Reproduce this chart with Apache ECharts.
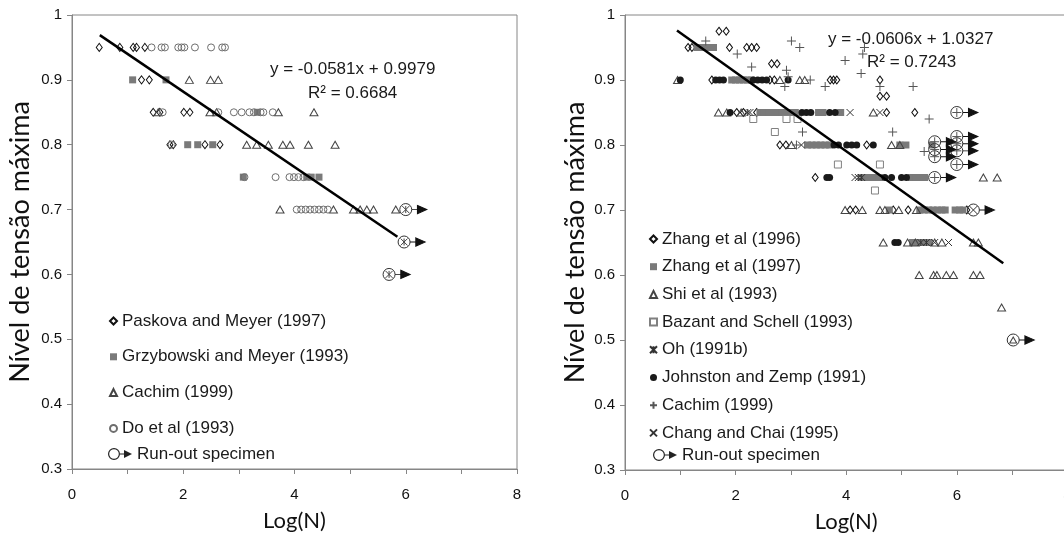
<!DOCTYPE html>
<html>
<head>
<meta charset="utf-8">
<script src="https://cdn.jsdelivr.net/npm/echarts@6/dist/echarts.min.js"></script>
<style>html,body{margin:0;padding:0;background:#fff;}#c{width:1064px;height:535px;}</style>
</head>
<body>
<div id="c"></div>
<script>
// ---------- tick labels ----------
const xTickLabels = ['0', '', '2', '', '4', '', '6', '', '8'];
const yTickLabels = ['0.3', '0.4', '0.5', '0.6', '0.7', '0.8', '0.9', '1'];

// ---------- left panel data ----------
const paskova = [[0.49,0.95],[0.86,0.95],[1.10,0.95],[1.16,0.95],[1.31,0.95],
  [1.25,0.90],[1.39,0.90],
  [1.46,0.85],[1.58,0.85],[2.01,0.85],[2.12,0.85],
  [1.76,0.80],[1.82,0.80],[2.39,0.80],[2.66,0.80]];
const grzybowski = [[1.09,0.90],[1.69,0.90],[2.08,0.80],[2.26,0.80],[2.53,0.80],
  [3.33,0.85],[3.08,0.75],[4.22,0.75],[4.30,0.75],[4.44,0.75]];
const cachimLeft = [[2.11,0.90],[2.49,0.90],[2.63,0.90],
  [1.55,0.85],[2.48,0.85],[2.60,0.85],[3.71,0.85],[4.35,0.85],
  [3.14,0.80],[3.32,0.80],[3.53,0.80],[3.79,0.80],[3.92,0.80],[4.25,0.80],[4.73,0.80],
  [3.74,0.70],[4.70,0.70],[5.06,0.70],[5.18,0.70],[5.30,0.70],[5.42,0.70],[5.82,0.70]];
const doEtAl = [[1.43,0.95],[1.61,0.95],[1.67,0.95],[1.91,0.95],[1.97,0.95],[2.02,0.95],[2.21,0.95],[2.50,0.95],[2.70,0.95],[2.75,0.95],
  [1.63,0.85],[2.63,0.85],[2.91,0.85],[3.05,0.85],[3.19,0.85],[3.27,0.85],[3.39,0.85],[3.44,0.85],[3.61,0.85],
  [1.79,0.80],
  [3.10,0.75],[3.66,0.75],[3.91,0.75],[3.99,0.75],[4.07,0.75],[4.16,0.75],
  [4.04,0.70],[4.12,0.70],[4.20,0.70],[4.28,0.70],[4.36,0.70],[4.44,0.70],[4.52,0.70],[4.60,0.70]];
const runoutLeft = [[6.00,0.70],[5.97,0.65],[5.70,0.60]];
const trendLeft = [[0.50,0.969],[5.85,0.658]];
const eqLeft = 'y = -0.0581x + 0.9979';
const r2Left = 'R² = 0.6684';

// ---------- right panel data ----------
const zhang1996 = [[1.70,0.975],[1.83,0.975],
  [1.14,0.95],[1.21,0.95],[1.89,0.95],[2.20,0.95],[2.29,0.95],[2.38,0.95],
  [2.65,0.925],[2.75,0.925],
  [1.57,0.90],[2.62,0.90],[2.70,0.90],[3.71,0.90],[3.77,0.90],[3.83,0.90],[4.61,0.90],
  [4.61,0.875],[4.73,0.875],
  [2.02,0.85],[2.14,0.85],[2.38,0.85],[4.73,0.85],[5.24,0.85],
  [2.80,0.80],[2.91,0.80],[4.37,0.80],
  [3.44,0.75],
  [4.07,0.70],[4.17,0.70],[4.85,0.70],[5.12,0.70],[6.18,0.70]];
const zhang1997 = [[1.30,0.95],[1.36,0.95],[1.42,0.95],[1.48,0.95],[1.54,0.95],[1.60,0.95],
  [1.93,0.90],[2.00,0.90],[2.07,0.90],[2.14,0.90],[2.21,0.90],[2.28,0.90],
  [2.44,0.85],[2.52,0.85],[2.60,0.85],[2.68,0.85],[2.76,0.85],[2.84,0.85],[2.92,0.85],[3.00,0.85],[3.08,0.85],[3.50,0.85],[3.58,0.85],[3.90,0.85],
  [3.30,0.80],[3.38,0.80],[3.46,0.80],[3.54,0.80],[3.62,0.80],[3.70,0.80],[4.97,0.80],[5.08,0.80],[5.55,0.80],
  [4.30,0.75],[4.40,0.75],[4.50,0.75],[4.60,0.75],[5.18,0.75],[5.26,0.75],[5.34,0.75],[5.42,0.75],
  [4.78,0.70],[5.33,0.70],[5.41,0.70],[5.49,0.70],[5.57,0.70],[5.65,0.70],[5.73,0.70],[5.79,0.70],[5.97,0.70],[6.05,0.70],[6.11,0.70],
  [5.20,0.65],[5.30,0.65],[5.40,0.65],[5.50,0.65]];
const shi1993 = [[0.95,0.90],[2.80,0.90],[3.16,0.90],[3.25,0.90],
  [1.69,0.85],[1.84,0.85],[2.10,0.85],[4.49,0.85],
  [3.01,0.80],[4.82,0.80],[4.97,0.80],
  [6.48,0.75],[6.73,0.75],
  [3.98,0.70],[4.29,0.70],[4.61,0.70],[4.70,0.70],[4.95,0.70],[5.27,0.70],
  [4.67,0.65],[5.11,0.65],[5.25,0.65],[5.60,0.65],[5.73,0.65],[6.30,0.65],[6.39,0.65],
  [5.32,0.60],[5.58,0.60],[5.64,0.60],[5.81,0.60],[5.94,0.60],[6.30,0.60],[6.42,0.60],
  [6.81,0.55]];
const bazant = [[2.32,0.84],[2.92,0.84],[3.12,0.84],[2.71,0.82],[3.85,0.77],[4.61,0.77],[4.52,0.73]];
const oh1991 = [[2.22,0.85],[4.22,0.75],[4.28,0.75],[5.35,0.65],[5.45,0.65]];
const johnston = [[1.00,0.90],[1.64,0.90],[1.71,0.90],[1.78,0.90],[2.32,0.90],[2.40,0.90],[2.48,0.90],[2.56,0.90],[2.95,0.90],
  [1.90,0.85],[3.20,0.85],[3.28,0.85],[3.36,0.85],[3.70,0.85],[3.80,0.85],
  [3.78,0.80],[3.86,0.80],[4.01,0.80],[4.10,0.80],[4.19,0.80],[4.49,0.80],
  [3.65,0.75],[3.70,0.75],[4.70,0.75],[4.82,0.75],[5.00,0.75],[5.09,0.75],
  [4.88,0.65],[4.94,0.65]];
const cachimRight = [[1.46,0.96],[2.03,0.94],[2.29,0.92],[3.01,0.96],[3.16,0.95],[2.92,0.915],[2.95,0.905],[2.89,0.89],[3.35,0.90],[3.62,0.89],
  [3.98,0.93],[4.30,0.94],[4.33,0.95],[4.27,0.91],[4.61,0.89],[5.21,0.89],[5.50,0.84],[4.84,0.82],[3.21,0.82],[5.41,0.79],[3.10,0.80]];
const changChai = [[2.26,0.85],[4.07,0.85],[4.61,0.85],[3.19,0.80],[4.16,0.75],[5.60,0.65],[5.85,0.65]];
const runoutRightCachim = [[6.00,0.85],[5.60,0.805],[5.60,0.793],[5.60,0.782],[6.00,0.813],[6.00,0.802],[6.00,0.791],[6.00,0.770],[5.60,0.75]];
const runoutRightChang = [[6.30,0.70]];
const runoutRightShi = [[7.02,0.50]];
const trendRight = [[0.94,0.976],[6.84,0.618]];
const eqRight = 'y = -0.0606x + 1.0327';
const r2Right = 'R² = 0.7243';

// ---------- styles ----------
const FONT = 'Liberation Sans';
const TITLE_FONT = 'Lato';
const AX = '#868686';
const PLUS = 'path://M0,5L10,5M5,0L5,10';
const CROSS = 'path://M0,0L10,10M10,0L0,10';
const AST = 'path://M0,0L10,10M10,0L0,10M5,0L5,10';
const ARROW = 'path://M0,4L6,4M6,0L15,4L6,8Z';
const RUNOUT_ICON = 'path://M0,6A6,6,0,1,1,12,6A6,6,0,1,1,0,6ZM1.2,6A4.8,4.8,0,1,0,10.8,6A4.8,4.8,0,1,0,1.2,6ZM12,5.4L16,5.4L16,6.6L12,6.6ZM16,2L24,6L16,10Z';
const NOFILL = 'rgba(0,0,0,0)';

function sc(name, data, g, symbol, size, fill, stroke, bw, z, extra) {
  return Object.assign({
    type: 'scatter', name: name, data: data, xAxisIndex: g, yAxisIndex: g,
    symbol: symbol, symbolSize: size, z: z || 2, silent: true,
    itemStyle: {color: fill, borderColor: stroke, borderWidth: bw, opacity: 1},
    emphasis: {disabled: true}
  }, extra || {});
}

function xAxisCfg(g) {
  return {
    type: 'value', gridIndex: g, min: 0, max: 8, interval: 1,
    name: 'Log(N)', nameLocation: 'middle', nameGap: 41,
    nameTextStyle: {fontFamily: TITLE_FONT, fontSize: 22, color: '#111'},
    axisLine: {show: true, onZero: false, lineStyle: {color: AX, width: 1}},
    axisTick: {show: true, inside: false, length: 5, lineStyle: {color: AX}},
    axisLabel: {margin: 18, fontFamily: FONT, fontSize: 15, color: '#111',
      formatter: (v, i) => xTickLabels[i]},
    splitLine: {show: false}
  };
}
function yAxisCfg(g, gap) {
  return {
    type: 'value', gridIndex: g, min: 0.3, max: 1, interval: 0.1,
    name: 'Nível de tensão máxima', nameLocation: 'middle', nameGap: gap, nameRotate: 90,
    nameTextStyle: {fontFamily: TITLE_FONT, fontSize: 27, color: '#111'},
    axisLine: {show: true, onZero: false, lineStyle: {color: AX, width: 1}},
    axisTick: {show: true, inside: false, length: 5, lineStyle: {color: AX}},
    axisLabel: {margin: 10, fontFamily: FONT, fontSize: 15, color: '#111',
      formatter: (v, i) => yTickLabels[i]},
    splitLine: {show: false}
  };
}

const legendText = {fontFamily: FONT, fontSize: 17, color: '#1a1a1a', lineHeight: 20};

const option = {
  animation: false,
  backgroundColor: '#fff',
  grid: [
    {left: 72, top: 15, width: 445, height: 454, show: true, borderColor: AX, borderWidth: 1,
      backgroundColor: 'transparent', outerBoundsMode: 'none', containLabel: false},
    {left: 625, top: 15, width: 442.4, height: 455, show: true, borderColor: AX, borderWidth: 1,
      backgroundColor: 'transparent', outerBoundsMode: 'none', containLabel: false}
  ],
  xAxis: [xAxisCfg(0), xAxisCfg(1)],
  yAxis: [yAxisCfg(0, 38), yAxisCfg(1, 36)],
  legend: [
    {orient: 'vertical', left: 109, top: 311, padding: 0, itemWidth: 7, itemHeight: 7, itemGap: 15.8,
      selectedMode: false, textStyle: legendText,
      data: ['Paskova and Meyer (1997)', 'Grzybowski and Meyer (1993)', 'Cachim (1999)', 'Do et al (1993)']},
    {orient: 'vertical', left: 108, top: 444, padding: 0, itemWidth: 24, itemHeight: 12, selectedMode: false, textStyle: legendText,
      data: [{name: 'Run-out specimen', icon: RUNOUT_ICON, itemStyle: {color: '#222', borderWidth: 0}}]},
    {orient: 'vertical', left: 649, top: 229, padding: 0, itemWidth: 7, itemHeight: 7, itemGap: 7.7,
      selectedMode: false, textStyle: legendText,
      data: ['Zhang et al (1996)', 'Zhang et al (1997)', 'Shi et al (1993)', 'Bazant and Schell (1993)',
        'Oh (1991b)', 'Johnston and Zemp (1991)', 'Cachim (1999) ', 'Chang and Chai (1995)']},
    {orient: 'vertical', left: 653, top: 445, padding: 0, itemWidth: 24, itemHeight: 12, selectedMode: false, textStyle: legendText,
      data: [{name: 'Run-out specimen ', icon: RUNOUT_ICON, itemStyle: {color: '#222', borderWidth: 0}}]}
  ],
  graphic: [
    {type: 'text', left: 270, top: 61, style: {text: eqLeft, font: '17px "Liberation Sans"', fill: '#1a1a1a'}},
    {type: 'text', left: 308, top: 85, style: {text: r2Left, font: '17px "Liberation Sans"', fill: '#1a1a1a'}},
    {type: 'text', left: 828, top: 31, style: {text: eqRight, font: '17px "Liberation Sans"', fill: '#1a1a1a'}},
    {type: 'text', left: 867, top: 54, style: {text: r2Right, font: '17px "Liberation Sans"', fill: '#1a1a1a'}}
  ],
  series: [
    // left panel
    sc('Paskova and Meyer (1997)', paskova, 0, 'diamond', [6, 8], NOFILL, '#111', 1),
    sc('Grzybowski and Meyer (1993)', grzybowski, 0, 'rect', 7, '#7a7a7a', '#7a7a7a', 0),
    sc('Cachim (1999)', cachimLeft, 0, 'triangle', [8, 7], NOFILL, '#444', 1),
    sc('Do et al (1993)', doEtAl, 0, 'circle', 7, NOFILL, '#6e6e6e', 1),
    sc('runoutLeftCircle', runoutLeft, 0, 'circle', 12, NOFILL, '#333', 1, 4),
    sc('runoutLeftInner', runoutLeft, 0, AST, 7, NOFILL, '#444', 1, 4),
    sc('Run-out specimen', runoutLeft, 0, ARROW, [15, 8], '#111', '#111', 1.2, 4, {symbolOffset: [13.5, 0]}),
    {type: 'line', name: 'trendLeft', data: trendLeft, xAxisIndex: 0, yAxisIndex: 0, symbol: 'none', silent: true, z: 5,
      lineStyle: {color: '#000', width: 2.5}},
    // right panel
    sc('Zhang et al (1996)', zhang1996, 1, 'diamond', [6, 8], NOFILL, '#111', 1),
    sc('Zhang et al (1997)', zhang1997, 1, 'rect', 7, '#7a7a7a', '#7a7a7a', 0),
    sc('Shi et al (1993)', shi1993, 1, 'triangle', [8, 7], NOFILL, '#444', 1),
    sc('Bazant and Schell (1993)', bazant, 1, 'rect', 7, NOFILL, '#808080', 1),
    sc('Oh (1991b)', oh1991, 1, AST, 7, NOFILL, '#333', 1),
    sc('Johnston and Zemp (1991)', johnston, 1, 'circle', 7, '#1a1a1a', '#1a1a1a', 0),
    sc('Cachim (1999) ', cachimRight, 1, PLUS, 9, NOFILL, '#555', 1),
    sc('Chang and Chai (1995)', changChai, 1, CROSS, 7, NOFILL, '#333', 1),
    sc('runoutRightCircle', runoutRightCachim.concat(runoutRightChang, runoutRightShi), 1, 'circle', 12, NOFILL, '#333', 1, 4),
    sc('runoutRightInnerPlus', runoutRightCachim, 1, PLUS, 9, NOFILL, '#555', 1, 4),
    sc('runoutRightInnerCross', runoutRightChang, 1, CROSS, 8, NOFILL, '#333', 1, 4),
    sc('runoutRightInnerTri', runoutRightShi, 1, 'triangle', [7, 6], NOFILL, '#444', 1, 4),
    sc('Run-out specimen ', runoutRightCachim.concat(runoutRightChang, runoutRightShi), 1, ARROW, [15, 8], '#111', '#111', 1.2, 4, {symbolOffset: [13.5, 0]}),
    {type: 'line', name: 'trendRight', data: trendRight, xAxisIndex: 1, yAxisIndex: 1, symbol: 'none', silent: true, z: 5,
      lineStyle: {color: '#000', width: 2.5}}
  ]
};

const chart = echarts.init(document.getElementById('c'), null, {renderer: 'canvas'});
chart.setOption(option);
</script>
</body>
</html>
